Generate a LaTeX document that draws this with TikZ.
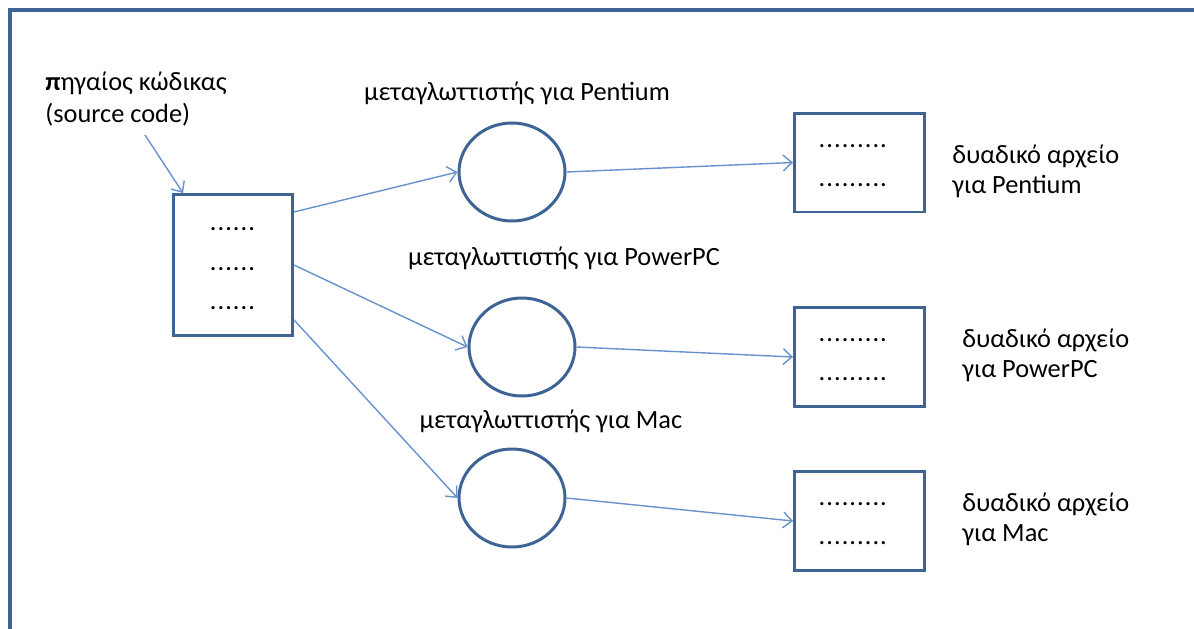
\documentclass[tikz,border=0pt]{standalone}
\usepackage{fontspec}
\setmainfont{Carlito}
\usetikzlibrary{shapes.geometric,arrows.meta}
\definecolor{bleucadre}{RGB}{62,100,150}
\definecolor{bleufleche}{RGB}{104,146,206}
\newcommand{\police}{\fontsize{15}{17}\selectfont}
\newcommand{\pts}[1]{\foreach \k in {1,...,#1}{.\kern0.6pt}}
\tikzstyle{cadre}=[draw=bleucadre,line width=1.7pt]
\tikzstyle{fichier}=[cadre,rectangle,minimum width=2.6cm,minimum height=1.98cm,align=center,font=\fontsize{15}{22.3}\selectfont]
\tikzstyle{compil}=[cadre,ellipse,inner sep=0pt,minimum width=2.12cm,minimum height=1.96cm]
\tikzstyle{legende}=[anchor=west,align=left,inner sep=0pt]
\tikzstyle{fleche}=[draw=bleufleche,line width=0.8pt,-{Straight Barb[length=5pt,width=9pt]}]

\begin{document}
\begin{tikzpicture}[x=0.02cm,y=-0.02cm,font=\police]

\useasboundingbox (0,0) rectangle (1194,629);
\draw[bleucadre,line width=2.3pt] (10,650) -- (10,10) -- (1210,10);

\node[legende,font=\fontsize{15}{18.2}\selectfont] (lbl) at (45,99) {{\bfseries π}ηγαίος κώδικας\\(source code)};
\coordinate (debut) at (145,135);

\node[cadre,rectangle,minimum width=2.38cm,minimum height=2.82cm,align=center,font=\fontsize{15}{22.3}\selectfont] (src) at (233,265) {\raisebox{-6pt}{\pts{6}}\\\raisebox{-6pt}{\pts{6}}\\\raisebox{-6pt}{\pts{6}}};
\draw[fleche] (debut) -- ([xshift=0.22cm]src.north west);

\foreach \i/\cx/\cy/\lx/\ly/\fy/\ox/\oy/\nom in {1/512/172/517/93/162.5/952/171.5/Pentium,2/522/347/564/258/357/962/355/PowerPC,3/512/498/551/421/521/962/519.5/Mac}
{
\node[compil] (c\i) at (\cx,\cy) {};
\node (t\i) at (\lx,\ly) {μεταγλωττιστής για \nom};
\node[fichier] (f\i) at (859.5,\fy) {\kern-7pt\raisebox{-5pt}{\pts{9}}\\\kern-7pt\raisebox{-5pt}{\pts{9}}};
\node[legende] (d\i) at (\ox,\oy) {δυαδικό αρχείο\\για \nom};
\draw[fleche] (c\i.east) -- (f\i.west);
}

\draw[fleche] (src.41) -- (c1.west);
\draw[fleche] (src.east) -- (c2.west);
\draw[fleche] (src.-42) -- (c3.west);

\end{tikzpicture}
\end{document}
